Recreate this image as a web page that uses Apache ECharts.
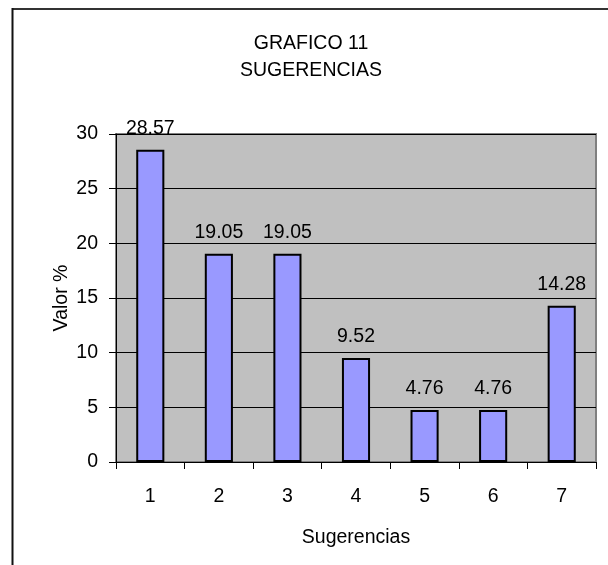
<!DOCTYPE html>
<html>
<head>
<meta charset="utf-8">
<script src="https://cdn.jsdelivr.net/npm/echarts@6/dist/echarts.min.js"></script>
<style>html,body{margin:0;padding:0;background:#fff}#c{width:608px;height:565px}</style>
</head>
<body>
<div id="c"></div>
<script>
var categories = ['1', '2', '3', '4', '5', '6', '7'];
var values = [28.57, 19.05, 19.05, 9.52, 4.76, 4.76, 14.28];
var yTicks = [0, 5, 10, 15, 20, 25, 30];

var chart = echarts.init(document.getElementById('c'));
var F = '"Liberation Sans", Arial, sans-serif';
var FS = 19.5;
chart.setOption({
  animation: false,
  backgroundColor: '#fff',
  title: {
    text: 'GRAFICO 11\nSUGERENCIAS',
    left: 306, top: 25, textAlign: 'center',
    textStyle: { fontFamily: F, fontSize: FS, fontWeight: 'normal', color: '#000', lineHeight: 27 }
  },
  graphic: [
    { type: 'line', shape: { x1: 12, y1: 9, x2: 608, y2: 9 }, style: { stroke: '#333', lineWidth: 2 } },
    { type: 'line', shape: { x1: 12.5, y1: 8, x2: 12.5, y2: 565 }, style: { stroke: '#111', lineWidth: 2 } }
  ],
  grid: {
    left: 116, right: 12, top: 134, bottom: 103,
    show: true, backgroundColor: '#c0c0c0', borderColor: '#808080', borderWidth: 2
  },
  xAxis: {
    type: 'category', data: categories,
    name: 'Sugerencias', nameLocation: 'middle', nameGap: 66,
    nameTextStyle: { fontFamily: F, fontSize: FS, color: '#000' },
    axisLine: { lineStyle: { color: '#000', width: 1 } },
    axisTick: { show: true, alignWithLabel: false, length: 7, lineStyle: { color: '#000' } },
    axisLabel: { fontFamily: F, fontSize: FS, color: '#000', margin: 25 }
  },
  yAxis: {
    type: 'value', min: 0, max: 30, interval: 5,
    name: 'Valor %', nameLocation: 'middle', nameGap: 44, nameMoveOverlap: false,
    nameTextStyle: { fontFamily: F, fontSize: FS, color: '#000' },
    axisLine: { show: true, lineStyle: { color: '#000', width: 1 } },
    axisTick: { show: true, length: 7, lineStyle: { color: '#000' } },
    axisLabel: { fontFamily: F, fontSize: FS, color: '#000', margin: 18,
      formatter: function (v) { return yTicks.indexOf(v) >= 0 ? String(v) : ''; } },
    splitLine: { show: true, lineStyle: { color: '#000', width: 1 } }
  },
  series: [{
    type: 'bar', data: values, barWidth: '41%',
    itemStyle: { color: '#9999ff', borderColor: '#000', borderWidth: 2 },
    label: { show: true, position: 'top', distance: 11, fontFamily: F, fontSize: FS, color: '#000',
      formatter: function (p) { return p.value.toFixed(2); } }
  }]
});
</script>
</body>
</html>
